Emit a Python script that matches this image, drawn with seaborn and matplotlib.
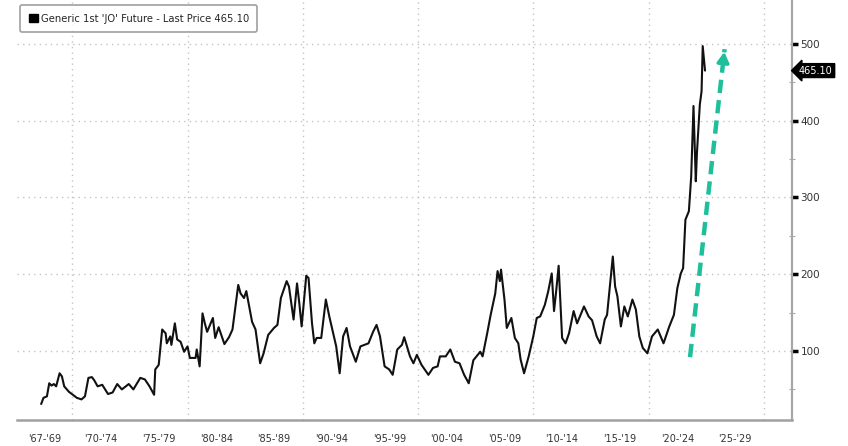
import matplotlib
matplotlib.use("Agg")
import matplotlib.pyplot as plt
import pandas as pd
import seaborn as sns
from matplotlib.patches import Patch

# Generic 1st 'JO' future (orange juice)
years = [
    1967.3, 1967.5, 1967.8, 1968.0, 1968.2, 1968.4, 1968.6, 1968.9, 1969.1, 1969.3,
    1969.7, 1970.05, 1970.4, 1970.8, 1971.1, 1971.4, 1971.7, 1971.9, 1972.2, 1972.6,
    1973.1, 1973.5, 1973.9, 1974.3, 1974.9, 1975.3, 1975.9, 1976.3, 1976.7, 1977.1,
    1977.2, 1977.5, 1977.8, 1978.1, 1978.2, 1978.5, 1978.6, 1978.9, 1979.1, 1979.4,
    1979.7, 1980.0, 1980.2, 1980.7, 1980.8, 1981.05, 1981.3, 1981.5, 1981.7, 1982.2,
    1982.4, 1982.7, 1983.2, 1983.6, 1983.9, 1984.4, 1984.6, 1984.9, 1985.1, 1985.3,
    1985.6, 1985.9, 1986.3, 1986.6, 1987.0, 1987.5, 1987.8, 1988.1, 1988.6, 1988.8,
    1989.2, 1989.5, 1989.7, 1989.9, 1990.3, 1990.5, 1990.8, 1991.0, 1991.2, 1991.6,
    1992.0, 1992.3, 1992.5, 1992.9, 1993.2, 1993.5, 1993.8, 1994.1, 1994.6, 1995.0,
    1995.7, 1996.1, 1996.4, 1996.7, 1997.1, 1997.5, 1997.8, 1998.2, 1998.6, 1998.8,
    1999.3, 1999.6, 1999.9, 2000.3, 2000.9, 2001.3, 2001.7, 2001.9, 2002.4, 2002.8,
    2003.2, 2003.6, 2004.0, 2004.4, 2004.8, 2005.4, 2005.6, 2006.0, 2006.3, 2006.7,
    2006.9, 2007.1, 2007.2, 2007.5, 2007.7, 2008.1, 2008.4, 2008.7, 2008.9, 2009.2,
    2009.6, 2010.0, 2010.3, 2010.6, 2011.0, 2011.3, 2011.6, 2011.8, 2012.0, 2012.2,
    2012.5, 2012.8, 2013.1, 2013.5, 2013.8, 2014.4, 2014.8, 2015.1, 2015.5, 2015.8,
    2016.2, 2016.4, 2016.6, 2016.9, 2017.1, 2017.3, 2017.6, 2017.9, 2018.2, 2018.6,
    2018.9, 2019.2, 2019.5, 2019.9, 2020.3, 2020.8, 2021.3, 2021.8, 2022.2, 2022.5,
    2022.8, 2023.0, 2023.2, 2023.5, 2023.7, 2023.9, 2024.1, 2024.2, 2024.45, 2024.6,
    2024.7, 2024.9,
]
prices = [
    31, 39, 41, 58, 55, 57, 54, 71, 67, 54,
    47, 43, 39, 37, 41, 65, 66, 62, 54, 56,
    44, 46, 57, 50, 57, 50, 65, 63, 54, 43,
    76, 82, 128, 123, 110, 119, 108, 136, 115, 112,
    99, 106, 91, 91, 102, 80, 149, 136, 125, 143,
    117, 131, 109, 118, 128, 186, 175, 169, 178, 162,
    138, 128, 84, 97, 121, 130, 134, 169, 191, 184,
    141, 188, 162, 132, 198, 195, 136, 110, 117, 117,
    167, 145, 132, 106, 71, 119, 130, 106, 86, 106,
    110, 125, 134, 119, 80, 76, 69, 102, 108, 118,
    93, 84, 95, 82, 69, 78, 80, 93, 93, 102,
    86, 84, 69, 58, 88, 99, 93, 123, 147, 175,
    204, 191, 206, 167, 130, 143, 117, 110, 89, 71,
    93, 119, 143, 145, 160, 178, 201, 152, 180, 211,
    117, 110, 123, 152, 136, 158, 145, 140, 119, 110,
    141, 147, 178, 223, 184, 171, 132, 158, 145, 167,
    154, 119, 104, 97, 119, 128, 110, 132, 147, 182,
    201, 208, 271, 282, 327, 419, 321, 358, 421, 438,
    497, 465.1,
]
last_price = 465.10

period_labels = ["'67-'69", "'70-'74", "'75-'79", "'80-'84", "'85-'89", "'90-'94",
                 "'95-'99", "'00-'04", "'05-'09", "'10-'14", "'15-'19", "'20-'24",
                 "'25-'29"]
period_centers = [1967.6, 1972.5, 1977.5, 1982.5, 1987.5, 1992.5, 1997.5,
                  2002.5, 2007.5, 2012.5, 2017.5, 2022.5, 2027.5]
period_edges = list(range(1970, 2031, 5))
y_ticks = [100, 200, 300, 400, 500]

# trend arrow (start, tip)
arrow_years = [2023.6, 2026.6]
arrow_values = [92, 493]

df = pd.DataFrame({"year": years, "price": prices})

sns.set_style("white")
plt.rcParams["font.family"] = ["DejaVu Sans"]

fig = plt.figure(figsize=(8.48, 4.46), dpi=100)
ax = fig.add_axes([0.02, 0.058, 0.914, 0.942])

sns.lineplot(data=df, x="year", y="price", ax=ax, color="#111111", linewidth=1.5)

ax.set_xlim(1965.2, 2032.45)
ax.set_ylim(10, 557)

# dotted grid
for gx in range(1970, 2031, 10):
    ax.axvline(gx, color="#c4c4c4", linestyle=(0, (1, 3)), linewidth=1.0, zorder=0)
for gy in y_ticks:
    ax.axhline(gy, color="#c4c4c4", linestyle=(0, (1, 3)), linewidth=1.0, zorder=0)

# spines
for side in ["left", "top"]:
    ax.spines[side].set_visible(False)
ax.spines["bottom"].set_color("#a0a0a0")
ax.spines["bottom"].set_linewidth(1.8)
ax.spines["right"].set_color("#a8a8a8")
ax.spines["right"].set_linewidth(1.6)

# x axis: separators at period edges, labels centered in periods
ax.set_xticks(period_edges)
ax.set_xticklabels([])
ax.tick_params(axis="x", which="major", direction="out", length=19, width=0.8,
               color="#999999")
ax.set_xticks(period_centers, minor=True)
ax.set_xticklabels(period_labels, minor=True, fontsize=7, color="#333333")
ax.tick_params(axis="x", which="minor", length=0, pad=10)
ax.set_xlabel("")

# y axis on the right
ax.yaxis.tick_right()
ax.set_yticks(y_ticks)
ax.set_yticklabels([str(v) for v in y_ticks], fontsize=7.5, color="#333333")
ax.set_yticks([50, 150, 250, 350, 450], minor=True)
ax.tick_params(axis="y", which="major", direction="out", length=4, width=2.5,
               color="black", pad=2)
ax.tick_params(axis="y", which="minor", direction="inout", length=4, width=0.8,
               color="#aaaaaa")
ax.set_ylabel("")

# last price tag
ax.annotate(f"{last_price:.2f}", xy=(1.0, last_price),
            xycoords=("axes fraction", "data"),
            xytext=(5, 0), textcoords="offset points", va="center", ha="left",
            fontsize=7, color="white", annotation_clip=False,
            bbox=dict(boxstyle="larrow,pad=0.2", facecolor="black",
                      edgecolor="black"))

# green dashed trend arrow
arrow_color = "#1fbf9c"
ax.plot(arrow_years, arrow_values, color=arrow_color, linewidth=3.2,
        linestyle=(0, (3, 1.6)), solid_capstyle="butt", zorder=3)
ax.annotate("", xy=(arrow_years[1], arrow_values[1]),
            xytext=(arrow_years[1] - 0.15, arrow_values[1] - 20),
            arrowprops=dict(arrowstyle="-|>,head_length=0.6,head_width=0.35",
                            color=arrow_color, linewidth=2.5))

# legend box
handle = Patch(facecolor="black", edgecolor="black")
leg = ax.legend([handle], [f"Generic 1st 'JO' Future - Last Price {last_price:.2f}"],
                loc="upper left", bbox_to_anchor=(0.004, 0.988), borderaxespad=0,
                fontsize=7.2, frameon=True, fancybox=True, handlelength=0.9,
                handleheight=0.9, handletextpad=0.3, borderpad=0.85)
leg.get_frame().set_edgecolor("#888888")
leg.get_frame().set_linewidth(1.2)

fig.savefig("out.png", dpi=100)
